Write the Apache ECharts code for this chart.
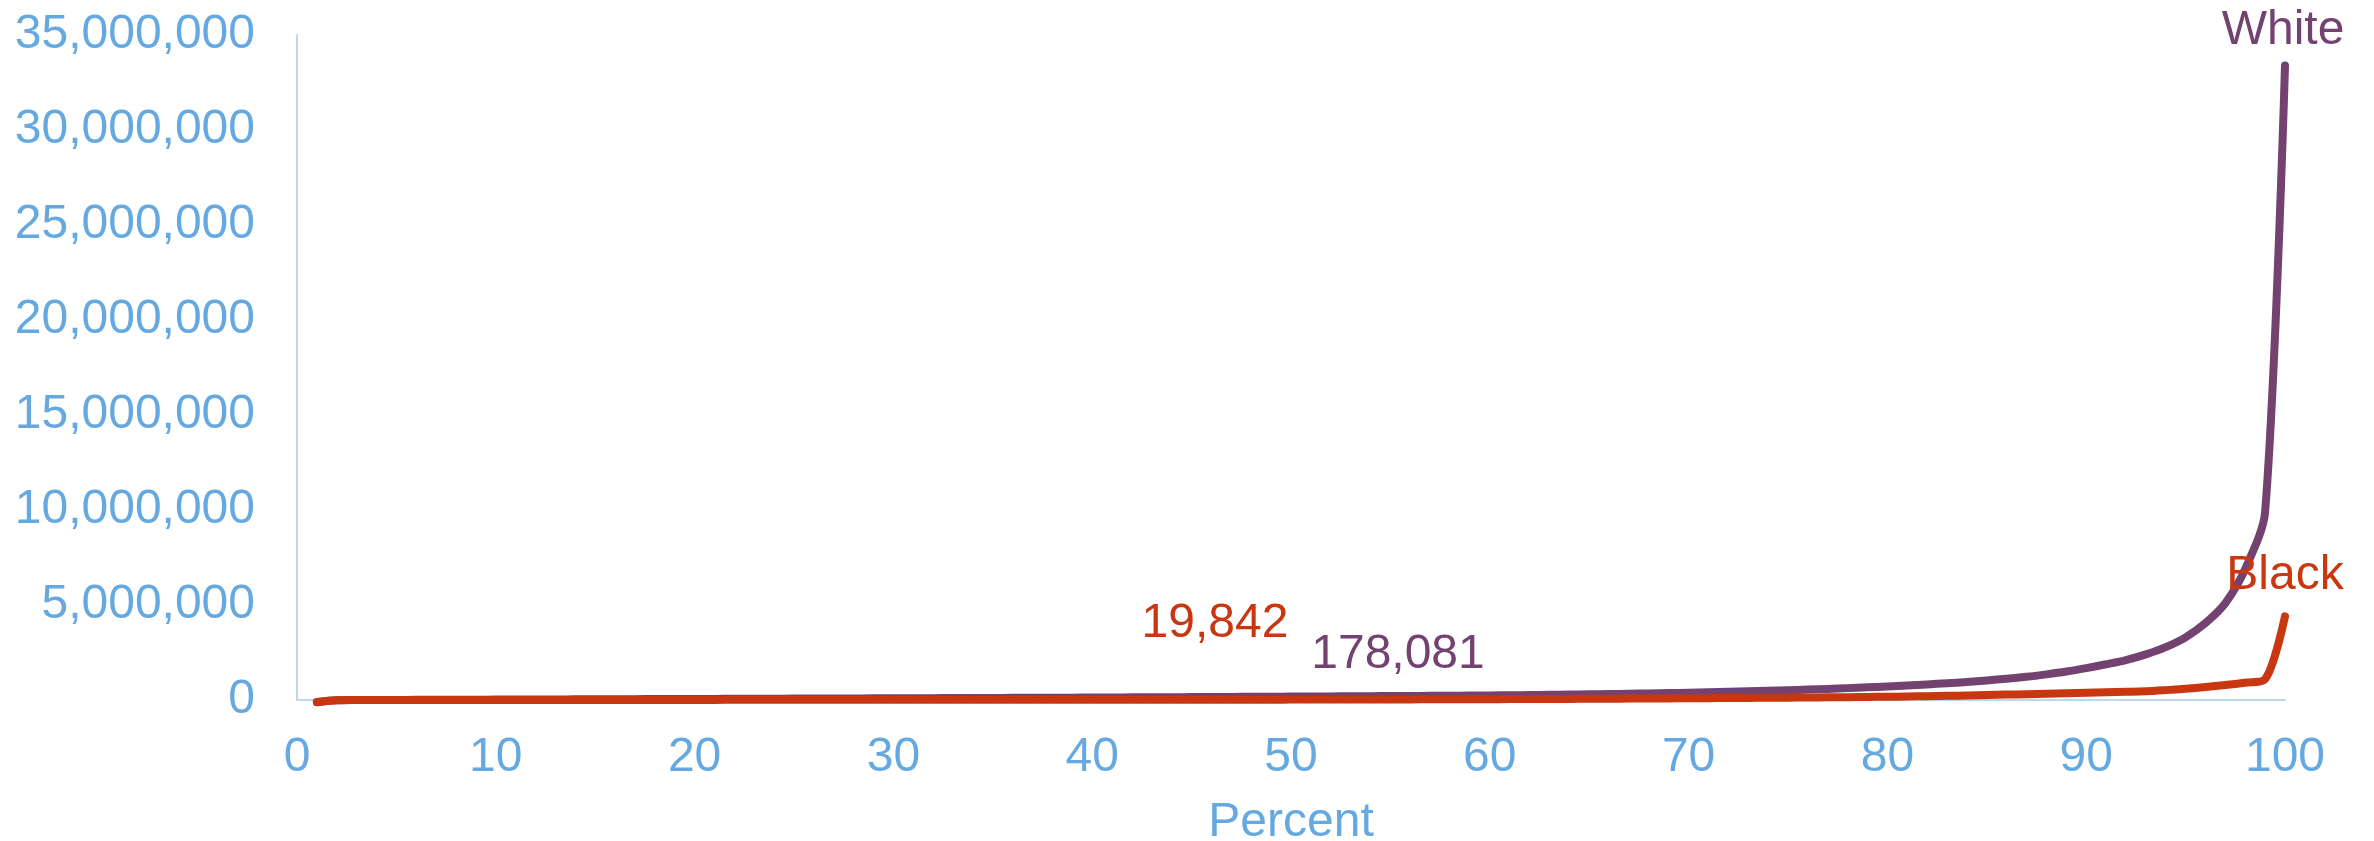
<!DOCTYPE html>
<html>
<head>
<meta charset="utf-8">
<title>Wealth by percentile</title>
<script src="https://cdn.jsdelivr.net/npm/echarts@6/dist/echarts.min.js"></script>
<style>
  html, body { margin: 0; padding: 0; background: #ffffff; }
  #chart { width: 2374px; height: 841px; }
</style>
</head>
<body>
<div id="chart"></div>
<script>
// Percentiles 1..100
const percentiles = Array.from({ length: 100 }, (_, i) => i + 1);

// Wealth at each percentile, White households
const whiteWealth = [
  -115000, -12000, 0, 1500, 4000, 7000, 10000, 13500, 17000, 20500,
  24000, 27500, 31000, 34500, 38000, 41500, 45000, 48500, 52000, 55500,
  59000, 62500, 66000, 69500, 73000, 76500, 80000, 83500, 87000, 90500,
  94000, 97500, 101000, 105000, 109000, 113000, 117000, 121000, 125000, 129500,
  134000, 138500, 143000, 147500, 152500, 157500, 162500, 167500, 172500, 178081,
  184000, 190000, 196000, 202000, 208000, 214000, 220000, 226000, 233000, 240000,
  250000, 260000, 272000, 285000, 298000, 312000, 328000, 345000, 362000, 380000,
  405000, 430000, 455000, 485000, 515000, 550000, 585000, 625000, 665000, 710000,
  760000, 820000, 880000, 950000, 1030000, 1120000, 1220000, 1350000, 1500000, 1680000,
  1880000, 2100000, 2400000, 2780000, 3300000, 4050000, 5100000, 6900000, 9900000, 33400000
];

// Wealth at each percentile, Black households
const blackWealth = [
  -105000, -9000, -1500, 0, 200, 500, 900, 1300, 1700, 2100,
  2500, 2900, 3300, 3700, 4100, 4500, 4900, 5300, 5700, 6100,
  6500, 6900, 7300, 7700, 8100, 8500, 8900, 9300, 9700, 10100,
  10500, 10900, 11300, 11700, 12100, 12500, 13000, 13500, 14000, 14500,
  15000, 15500, 16100, 16700, 17300, 17900, 18500, 19000, 19400, 19842,
  21500, 23500, 25500, 27500, 30000, 32500, 35000, 38000, 41000, 44000,
  47500, 51000, 55000, 59000, 63500, 68000, 73000, 78500, 84000, 90000,
  96000, 102000, 109000, 116000, 124000, 132000, 141000, 150000, 160000, 170000,
  185000, 200000, 218000, 238000, 260000, 283000, 307000, 332000, 358000, 380000,
  405000, 430000, 460000, 520000, 590000, 680000, 790000, 910000, 1100000, 4400000
];

const xTicks = [0, 10, 20, 30, 40, 50, 60, 70, 80, 90, 100];
const yTicks = [0, 5000000, 10000000, 15000000, 20000000, 25000000, 30000000, 35000000];

const MEDIAN_PCT = 50;
const WHITE_COLOR = '#734270';
const BLACK_COLOR = '#C8370F';
const AXIS_TEXT = '#65A9E0';
const AXIS_LINE = '#BDD7EE';
const FONT = '"Liberation Sans", Arial, sans-serif';

const fmt = v => Math.round(v).toLocaleString('en-US');

// Build [x, y] points; selected points carry their own text labels
function buildSeriesData(values, labels) {
  return values.map((v, i) => {
    const pct = percentiles[i];
    const lab = labels[pct];
    if (!lab) return [pct, v];
    return {
      value: [pct, v],
      label: Object.assign({
        show: true,
        position: 'inside',
        fontFamily: FONT,
        fontSize: 48
      }, lab)
    };
  });
}

const whiteLabels = {};
whiteLabels[MEDIAN_PCT] = { formatter: () => fmt(whiteWealth[MEDIAN_PCT - 1]), color: WHITE_COLOR, offset: [107, -42] };
whiteLabels[100] = { formatter: 'White', color: WHITE_COLOR, offset: [-2, -35] };

const blackLabels = {};
blackLabels[MEDIAN_PCT] = { formatter: () => fmt(blackWealth[MEDIAN_PCT - 1]), color: BLACK_COLOR, offset: [-76, -76] };
blackLabels[100] = { formatter: 'Black', color: BLACK_COLOR, offset: [0, -41] };

const chart = echarts.init(document.getElementById('chart'), null, { renderer: 'canvas' });

const lineSeries = (name, values, color, labels) => ({
  name,
  type: 'line',
  data: buildSeriesData(values, labels),
  smooth: 0.3,
  clip: false,
  showSymbol: true,
  symbol: 'circle',
  symbolSize: 1,
  itemStyle: { color },
  lineStyle: { color, width: 8, cap: 'round', join: 'round' },
  emphasis: { disabled: true },
  silent: true,
  animation: false
});

chart.setOption({
  animation: false,
  backgroundColor: '#ffffff',
  textStyle: { fontFamily: FONT },
  grid: {
    left: 297, right: 89, top: 35, bottom: 141,
    containLabel: false,
    outerBoundsMode: 'none'
  },
  xAxis: {
    type: 'value',
    min: xTicks[0],
    max: xTicks[xTicks.length - 1],
    interval: xTicks[1] - xTicks[0],
    name: 'Percent',
    nameLocation: 'middle',
    nameGap: 99,
    nameTextStyle: { color: AXIS_TEXT, fontSize: 48, fontFamily: FONT },
    axisLine: { show: true, lineStyle: { color: AXIS_LINE, width: 2 } },
    axisTick: { show: false },
    splitLine: { show: false },
    axisLabel: { color: AXIS_TEXT, fontSize: 48, fontFamily: FONT, margin: 34 }
  },
  yAxis: {
    type: 'value',
    min: yTicks[0],
    max: yTicks[yTicks.length - 1],
    interval: yTicks[1] - yTicks[0],
    axisLine: { show: true, lineStyle: { color: AXIS_LINE, width: 2 } },
    axisTick: { show: false },
    splitLine: { show: false },
    axisLabel: {
      color: AXIS_TEXT, fontSize: 48, fontFamily: FONT, margin: 42,
      padding: [6, 0, 0, 0],
      formatter: v => fmt(v)
    }
  },
  series: [
    lineSeries('White', whiteWealth, WHITE_COLOR, whiteLabels),
    lineSeries('Black', blackWealth, BLACK_COLOR, blackLabels)
  ]
});
</script>
</body>
</html>
